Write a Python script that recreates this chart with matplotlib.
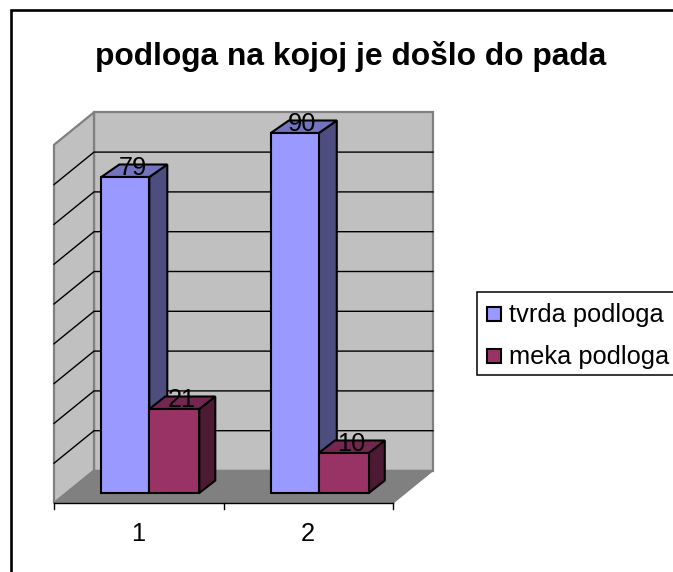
import matplotlib
matplotlib.use("Agg")
import matplotlib.pyplot as plt
from matplotlib.patches import Polygon, Rectangle

plt.rcParams['font.family'] = ['Liberation Sans', 'DejaVu Sans']

title = "podloga na kojoj je došlo do pada"
categories = ["1", "2"]
series_names = ["tvrda podloga", "meka podloga"]
tvrda = [79, 90]
meka = [21, 10]
value_ticks = [0, 10, 20, 30, 40, 50, 60, 70, 80, 90]

W, H = 673, 572
fig = plt.figure(figsize=(W / 100, H / 100), dpi=100)
ax = fig.add_axes([0, 0, 1, 1])
ax.axis("off")

# Scales: category units and value units mapped onto the figure
PX_CAT = 169.5     # px per category
PX_VAL = 4.0       # px per value unit
X0 = 54.0          # px of category edge 0
Y0 = 493.0         # px of value 0 on the bar front plane
ax.set_xlim(-X0 / PX_CAT, (W - X0) / PX_CAT)
ax.set_ylim((Y0 - H) / PX_VAL, Y0 / PX_VAL)


def dx(px):
    return px / PX_CAT


def dy(px):
    return px / PX_VAL


# Depth of the box and the base levels
floor_front = dy(-10)
wall_dx, wall_dy = dx(40), dy(32.5)
n_cat = len(categories)
top_val = value_ticks[-1]
wall_base = floor_front + wall_dy
wall_top = wall_base + top_val * 39.8 / 10 / PX_VAL

WALL = "#c0c0c0"
FLOOR = "#808080"
EDGE = "#808080"
lw_grid = 1.0

# walls
ax.add_patch(Polygon([(wall_dx, wall_base), (n_cat + wall_dx, wall_base),
                      (n_cat + wall_dx, wall_top), (wall_dx, wall_top)],
                     closed=True, fc=WALL, ec=EDGE, lw=1.6, zorder=1))
ax.add_patch(Polygon([(0, floor_front), (wall_dx, wall_base), (wall_dx, wall_top),
                      (0, wall_top - wall_dy)],
                     closed=True, fc=WALL, ec=EDGE, lw=1.6, zorder=1))
ax.add_patch(Polygon([(0, floor_front), (n_cat, floor_front),
                      (n_cat + wall_dx, wall_base), (wall_dx, wall_base)],
                     closed=True, fc=FLOOR, ec=FLOOR, lw=1, zorder=1.5))

# gridlines
for v in value_ticks[1:-1]:
    y = wall_base + v * 39.8 / 10 / PX_VAL
    ax.plot([0, wall_dx, n_cat + wall_dx], [y - wall_dy, y, y],
            color="black", lw=lw_grid, zorder=2, solid_joinstyle="miter")

# category axis
ax.plot([0, n_cat], [floor_front, floor_front], color="black", lw=1.0, zorder=3)
for i in range(n_cat + 1):
    ax.plot([i, i], [floor_front, floor_front - dy(6)], color="black", lw=1.0, zorder=3)
for i, c in enumerate(categories):
    ax.text(i + 0.5 - dx(1), dy(-41), c, ha="center", va="center", fontsize=18.3, zorder=6)


def bar3d(x0, w, v, face, top, side, z, depth):
    ddx, ddy = dx(depth), dy(12.5)
    kw = dict(closed=True, ec="black", lw=1.5, joinstyle="miter", zorder=z)
    ax.add_patch(Polygon([(x0 + w, 0), (x0 + w + ddx, ddy), (x0 + w + ddx, v + ddy), (x0 + w, v)],
                         fc=side, **kw))
    ax.add_patch(Polygon([(x0, v), (x0 + w, v), (x0 + w + ddx, v + ddy), (x0 + ddx, v + ddy)],
                         fc=top, **kw))
    ax.add_patch(Rectangle((x0, 0), w, v, fc=face, ec="black", lw=1.5, joinstyle="miter", zorder=z))
    ax.text(x0 + w / 2 + dx(7.5), v + dy(9), str(v), ha="center", va="center",
            fontsize=18.3, color="black", zorder=10)


starts = [dx(47.3), dx(216.8)]
w_blue, w_red = dx(48), dx(50)
for i in range(n_cat):
    bar3d(starts[i], w_blue, tvrda[i], "#9999ff", "#7373bf", "#4d4d80", 4, 18)
    bar3d(starts[i] + w_blue, w_red, meka[i], "#993366", "#732650", "#4d1a33", 5, 16)

ax.text((350.5 - X0) / PX_CAT, (Y0 - 57) / PX_VAL, title, ha="center", va="center",
        fontsize=22.9, fontweight="bold", zorder=6)


# legend
def pxx(p):
    return (p - X0) / PX_CAT


def pxy(p):
    return (Y0 - p) / PX_VAL


ax.add_patch(Rectangle((pxx(477), pxy(375)), dx(200), dy(83.5), fc="white", ec="black",
                       lw=1.1, zorder=6))
for name, col, yc in zip(series_names, ["#9999ff", "#993366"], [314, 356]):
    ax.add_patch(Rectangle((pxx(487), pxy(yc + 7)), dx(14), dy(14), fc=col, ec="black",
                           lw=1.5, zorder=7))
    ax.text(pxx(509), pxy(yc + 1), name, ha="left", va="center", fontsize=18.3, zorder=7)

# outer frame
ax.add_patch(Rectangle((pxx(11.5), pxy(H + 5)), dx(W), dy(H - 5), fc="none", ec="black", lw=1.9, zorder=8))

fig.savefig("out.png", dpi=100)
